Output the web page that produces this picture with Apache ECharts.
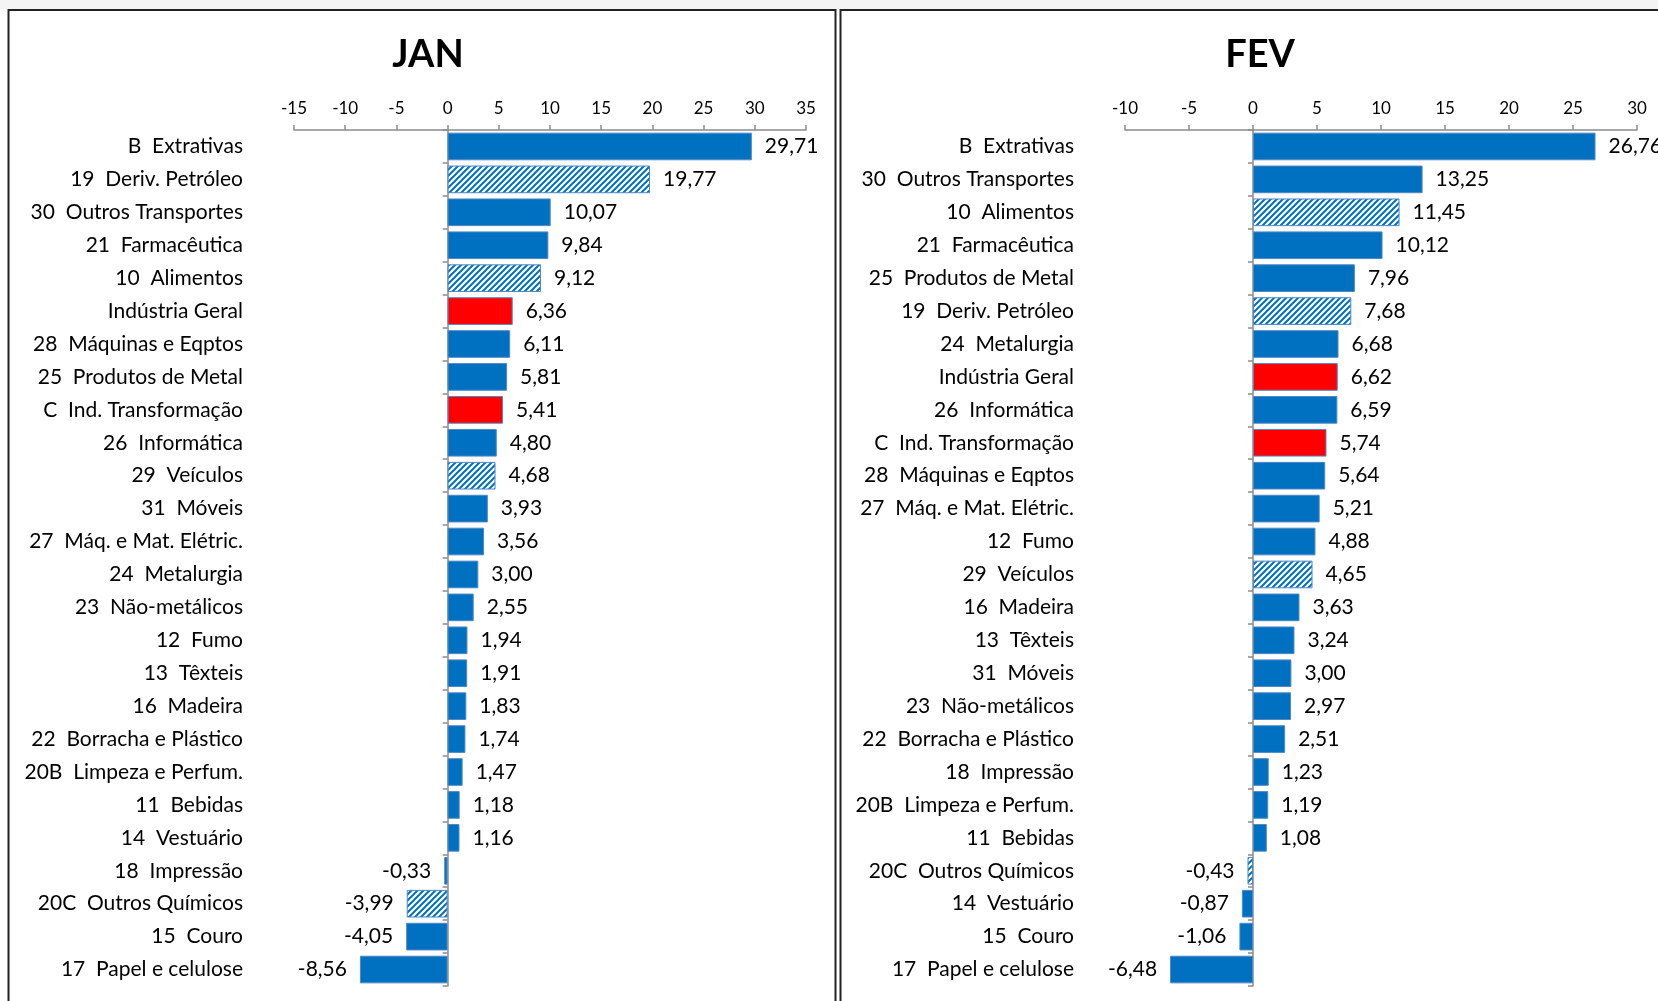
<!DOCTYPE html>
<html>
<head>
<meta charset="utf-8">
<script src="https://cdn.jsdelivr.net/npm/echarts@6/dist/echarts.min.js"></script>
<style>
html, body { margin: 0; padding: 0; background: #fff; }
#main { width: 1658px; height: 1001px; }
</style>
</head>
<body>
<div id="main"></div>
<script>
// JAN
var janCats = ['B  Extrativas', '19  Deriv. Petróleo', '30  Outros Transportes', '21  Farmacêutica', '10  Alimentos',
  'Indústria Geral', '28  Máquinas e Eqptos', '25  Produtos de Metal', 'C  Ind. Transformação', '26  Informática',
  '29  Veículos', '31  Móveis', '27  Máq. e Mat. Elétric.', '24  Metalurgia', '23  Não-metálicos', '12  Fumo',
  '13  Têxteis', '16  Madeira', '22  Borracha e Plástico', '20B  Limpeza e Perfum.', '11  Bebidas', '14  Vestuário',
  '18  Impressão', '20C  Outros Químicos', '15  Couro', '17  Papel e celulose'];
var janVals = [29.71, 19.77, 10.07, 9.84, 9.12, 6.36, 6.11, 5.81, 5.41, 4.80, 4.68, 3.93, 3.56, 3.00, 2.55, 1.94,
  1.91, 1.83, 1.74, 1.47, 1.18, 1.16, -0.33, -3.99, -4.05, -8.56];

// FEV
var fevCats = ['B  Extrativas', '30  Outros Transportes', '10  Alimentos', '21  Farmacêutica', '25  Produtos de Metal',
  '19  Deriv. Petróleo', '24  Metalurgia', 'Indústria Geral', '26  Informática', 'C  Ind. Transformação',
  '28  Máquinas e Eqptos', '27  Máq. e Mat. Elétric.', '12  Fumo', '29  Veículos', '16  Madeira', '13  Têxteis',
  '31  Móveis', '23  Não-metálicos', '22  Borracha e Plástico', '18  Impressão', '20B  Limpeza e Perfum.',
  '11  Bebidas', '20C  Outros Químicos', '14  Vestuário', '15  Couro', '17  Papel e celulose'];
var fevVals = [26.76, 13.25, 11.45, 10.12, 7.96, 7.68, 6.68, 6.62, 6.59, 5.74, 5.64, 5.21, 4.88, 4.65, 3.63, 3.24,
  3.00, 2.97, 2.51, 1.23, 1.19, 1.08, -0.43, -0.87, -1.06, -6.48];

// categorias com destaque
var hatched = ['19  Deriv. Petróleo', '10  Alimentos', '29  Veículos', '20C  Outros Químicos'];
var highlighted = ['Indústria Geral', 'C  Ind. Transformação'];

var BLUE = '#0070C0';

function hatchPattern() {
  var c = document.createElement('canvas');
  c.width = 6; c.height = 6;
  var g = c.getContext('2d');
  g.fillStyle = '#ffffff';
  g.fillRect(0, 0, 6, 6);
  g.strokeStyle = BLUE;
  g.lineWidth = 2;
  g.beginPath();
  g.moveTo(-3, 3); g.lineTo(3, -3);
  g.moveTo(0, 6); g.lineTo(6, 0);
  g.moveTo(3, 9); g.lineTo(9, 3);
  g.stroke();
  return c;
}
var pattern = { image: hatchPattern(), repeat: 'repeat' };

function buildData(cats, vals) {
  return vals.map(function (v, i) {
    var color = BLUE;
    if (hatched.indexOf(cats[i]) >= 0) color = pattern;
    if (highlighted.indexOf(cats[i]) >= 0) color = '#FF0000';
    return {
      value: v,
      itemStyle: { color: color },
      label: { position: v < 0 ? 'left' : 'right' }
    };
  });
}

function fmt(p) {
  return p.value.toFixed(2).replace('.', ',');
}

var font = 'Lato, "Open Sans", sans-serif';

function xAxisOf(idx, min, max) {
  return {
    gridIndex: idx, type: 'value', position: 'top', min: min, max: max, interval: 5,
    axisLine: { show: true, lineStyle: { color: '#8c8c8c', width: 1.5 } },
    axisTick: { show: true, length: 5, lineStyle: { color: '#8c8c8c', width: 1.5 } },
    axisLabel: { color: '#000', fontSize: 17, fontFamily: font, margin: 13 },
    splitLine: { show: false }
  };
}

function yAxisOf(idx, cats) {
  return {
    gridIndex: idx, type: 'category', data: cats, inverse: true,
    axisLine: { show: true, onZero: true, lineStyle: { color: '#8c8c8c', width: 1.5 } },
    axisTick: { show: true, length: 5, lineStyle: { color: '#8c8c8c', width: 1.5 } },
    axisLabel: { color: '#000', fontSize: 21, fontFamily: font, margin: 51 }
  };
}

function seriesOf(idx, cats, vals) {
  return {
    type: 'bar', xAxisIndex: idx, yAxisIndex: idx,
    data: buildData(cats, vals),
    barCategoryGap: '16%',
    itemStyle: { borderColor: '#4f88c6', borderWidth: 1 },
    label: { show: true, distance: 13, color: '#000', fontSize: 21, fontFamily: font, formatter: fmt },
    silent: true,
    animation: false
  };
}

var option = {
  backgroundColor: '#ffffff',
  animation: false,
  title: [
    { text: 'JAN', left: 423, top: 31, textAlign: 'center',
      textStyle: { fontSize: 38, fontWeight: 'bold', fontFamily: font, color: '#000' } },
    { text: 'FEV', left: 1255, top: 31, textAlign: 'center',
      textStyle: { fontSize: 38, fontWeight: 'bold', fontFamily: font, color: '#000' } }
  ],
  grid: [
    { left: 294, width: 512, top: 130, height: 856, outerBoundsMode: 'none' },
    { left: 1125, width: 512, top: 130, height: 856, outerBoundsMode: 'none' }
  ],
  xAxis: [xAxisOf(0, -15, 35), xAxisOf(1, -10, 30)],
  yAxis: [yAxisOf(0, janCats), yAxisOf(1, fevCats)],
  series: [seriesOf(0, janCats, janVals), seriesOf(1, fevCats, fevVals)],
  graphic: [
    { type: 'rect', shape: { x: 0, y: 0, width: 1658, height: 9 }, style: { fill: '#f4f4f4' }, silent: true },
    { type: 'rect', shape: { x: 8.5, y: 10, width: 827, height: 1010 },
      style: { fill: null, stroke: '#222', lineWidth: 2 }, silent: true },
    { type: 'rect', shape: { x: 840.5, y: 10, width: 840, height: 1010 },
      style: { fill: null, stroke: '#222', lineWidth: 2 }, silent: true }
  ]
};

var chart = echarts.init(document.getElementById('main'));
chart.setOption(option);
</script>
</body>
</html>
